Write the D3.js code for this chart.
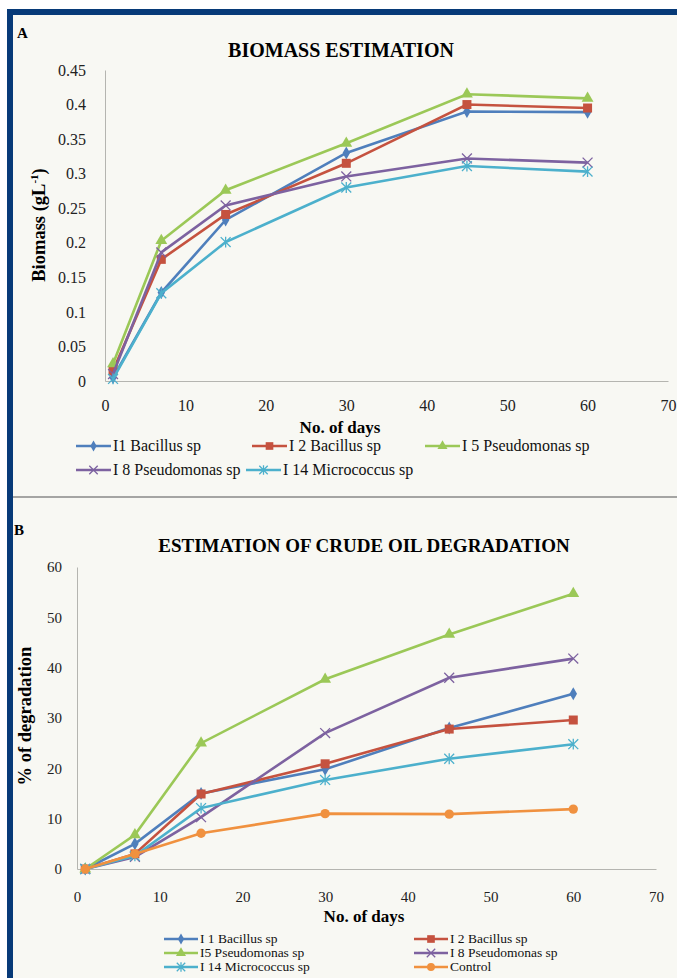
<!DOCTYPE html>
<html>
<head>
<meta charset="utf-8">
<script src="https://cdn.jsdelivr.net/npm/d3@7"></script>
<style>
  html, body { margin: 0; padding: 0; background: #fff; }
  svg text { font-family: "Liberation Serif", "Times New Roman", Times, "DejaVu Serif", serif; }
</style>
</head>
<body>
<svg id="chart" width="677" height="978"></svg>
<script>
const days = [1, 7, 15, 30, 45, 60];
const xTicks = [0, 10, 20, 30, 40, 50, 60, 70];

// panel A - biomass (g/L)
const biomassI1 = [0.005, 0.128, 0.233, 0.33, 0.39, 0.389];
const biomassI2 = [0.015, 0.176, 0.241, 0.315, 0.4, 0.395];
const biomassI5 = [0.025, 0.203, 0.276, 0.344, 0.415, 0.409];
const biomassI8 = [0.01, 0.186, 0.254, 0.296, 0.322, 0.316];
const biomassI14 = [0.003, 0.127, 0.201, 0.28, 0.311, 0.303];
const biomassTicks = [0, 0.05, 0.1, 0.15, 0.2, 0.25, 0.3, 0.35, 0.4, 0.45];

// panel B - % degradation
const degI1 = [0, 5, 15, 19.8, 28, 34.8];
const degI2 = [0, 3, 14.9, 20.9, 27.8, 29.6];
const degI5 = [0, 6.8, 25, 37.7, 46.6, 54.7];
const degI8 = [0, 2.4, 10.3, 27, 38, 41.8];
const degI14 = [0, 2.6, 12.1, 17.7, 21.9, 24.8];
const degControl = [0, 3, 7.1, 11, 10.9, 11.9];
const degTicks = [0, 10, 20, 30, 40, 50, 60];

const colors = {
  blue: '#4f7fbc', red: '#c5523f', green: '#9bc857',
  purple: '#7d62a0', cyan: '#4cb0cc', orange: '#f0913f'
};

const seriesA = [
  { name: 'I1 Bacillus sp', values: biomassI1, color: colors.blue, marker: 'diamond' },
  { name: 'I 2 Bacillus sp', values: biomassI2, color: colors.red, marker: 'square' },
  { name: 'I 5 Pseudomonas sp', values: biomassI5, color: colors.green, marker: 'triangle' },
  { name: 'I 8 Pseudomonas sp', values: biomassI8, color: colors.purple, marker: 'x' },
  { name: 'I 14 Micrococcus sp', values: biomassI14, color: colors.cyan, marker: 'star' },
];

const seriesB = [
  { name: 'I 1 Bacillus sp', values: degI1, color: colors.blue, marker: 'diamond' },
  { name: 'I 2 Bacillus sp', values: degI2, color: colors.red, marker: 'square' },
  { name: 'I5 Pseudomonas sp', values: degI5, color: colors.green, marker: 'triangle' },
  { name: 'I 8 Pseudomonas sp', values: degI8, color: colors.purple, marker: 'x' },
  { name: 'I 14 Micrococcus sp', values: degI14, color: colors.cyan, marker: 'star' },
  { name: 'Control', values: degControl, color: colors.orange, marker: 'circle' },
];

const serif = '"Liberation Serif", "Times New Roman", Times, "DejaVu Serif", serif';
const svg = d3.select('#chart');

// page background + frame
svg.append('rect').attr('width', 677).attr('height', 978).attr('fill', '#fff');
svg.append('rect').attr('x', 7).attr('y', 9).attr('width', 670).attr('height', 969).attr('fill', '#f8f8f3');
svg.append('rect').attr('x', 7).attr('y', 9).attr('width', 670).attr('height', 6).attr('fill', '#073a78');
svg.append('rect').attr('x', 7).attr('y', 9).attr('width', 6).attr('height', 969).attr('fill', '#073a78');
svg.append('line').attr('x1', 13).attr('x2', 677).attr('y1', 497).attr('y2', 497)
  .attr('stroke', '#8a8a88').attr('stroke-width', 1.5);

function drawMarker(g, type, color, size) {
  if (type === 'x' || type === 'star') {
    const r = size * 0.55;
    let d = `M${-r},${-r}L${r},${r}M${-r},${r}L${r},${-r}`;
    if (type === 'star') d += `M0,${-r * 1.1}L0,${r * 1.1}`;
    g.append('path').attr('d', d).attr('stroke', color).attr('stroke-width', 1.3).attr('fill', 'none');
    return;
  }
  const sym = { diamond: d3.symbolDiamond, square: d3.symbolSquare, triangle: d3.symbolTriangle, circle: d3.symbolCircle }[type];
  const area = { diamond: size * size * 0.6, square: size * size, triangle: size * size * 0.75, circle: size * size * 0.85 }[type];
  g.append('path').attr('d', d3.symbol(sym, area)()).attr('fill', color);
}

function panel(opts) {
  const x = d3.scaleLinear().domain([0, 70]).range(opts.xRange);
  const y = d3.scaleLinear().domain(opts.yDomain).range(opts.yRange);
  const g = svg.append('g').attr('font-family', serif);

  g.append('text').attr('x', opts.letter[0]).attr('y', opts.letter[1])
    .attr('font-weight', 'bold').attr('font-size', 15).text(opts.letterText);
  g.append('text').attr('x', opts.title[0]).attr('y', opts.title[1]).attr('text-anchor', 'middle')
    .attr('font-weight', 'bold').attr('font-size', opts.titleSize).text(opts.titleText);

  // axes
  const yAxis = g.append('g').attr('transform', `translate(${opts.xRange[0]},0)`)
    .call(d3.axisLeft(y).tickValues(opts.yTicks).tickSize(0).tickPadding(opts.yPad).tickFormat(opts.yFormat));
  yAxis.select('.domain').attr('stroke', '#b5b5b0');
  const xAxis = g.append('g').attr('transform', `translate(0,${opts.yRange[0]})`)
    .call(d3.axisBottom(x).tickValues(xTicks).tickSize(0).tickPadding(opts.xPad).tickFormat(d3.format('d')));
  xAxis.select('.domain').attr('stroke', '#b5b5b0');
  yAxis.attr('font-family', serif);
  xAxis.attr('font-family', serif);
  g.selectAll('.tick text').attr('font-size', opts.tickSize).attr('fill', '#222');

  g.append('text').attr('transform', `translate(${opts.yTitle[0]},${opts.yTitle[1]}) rotate(-90)`)
    .attr('text-anchor', 'middle').attr('font-weight', 'bold').attr('font-size', opts.yTitleSize)
    .call(opts.yTitleFn);
  g.append('text').attr('x', opts.xTitle[0]).attr('y', opts.xTitle[1]).attr('text-anchor', 'middle')
    .attr('font-weight', 'bold').attr('font-size', 17).text('No. of days');

  const line = d3.line().x((d, i) => x(days[i])).y(d => y(d));
  opts.series.forEach(s => {
    g.append('path').attr('d', line(s.values)).attr('fill', 'none')
      .attr('stroke', s.color).attr('stroke-width', 2.6);
    s.values.forEach((v, i) => {
      const mg = g.append('g').attr('transform', `translate(${x(days[i])},${y(v)})`);
      drawMarker(mg, s.marker, s.color, opts.markerSize);
    });
  });

  // legend
  const len = opts.legendLine;
  opts.series.forEach((s, i) => {
    const [lx, ly] = opts.legendPos[i];
    const lg = g.append('g').attr('transform', `translate(${lx},${ly})`);
    lg.append('line').attr('x1', 0).attr('x2', len).attr('stroke', s.color).attr('stroke-width', 2.6);
    const mg = lg.append('g').attr('transform', `translate(${len / 2},0)`);
    drawMarker(mg, s.marker, s.color, opts.markerSize * 0.85);
    lg.append('text').attr('x', len + 2).attr('y', 0).attr('dy', '0.33em')
      .attr('font-size', opts.legendSize).attr('fill', '#111').text(s.name);
  });
}

panel({
  letterText: 'A', letter: [17, 38],
  titleText: 'BIOMASS ESTIMATION', title: [341, 57], titleSize: 20,
  xRange: [105, 668], yDomain: [0, 0.45], yRange: [381, 70],
  yTicks: biomassTicks, yFormat: d => d === 0 ? '0' : String(+d.toFixed(2)), yPad: 19, xPad: 19,
  tickSize: 16,
  yTitle: [45, 225], yTitleSize: 18.5,
  yTitleFn: t => {
    t.append('tspan').text('Biomass (gL');
    t.append('tspan').attr('font-size', 11).attr('dy', -7).text('-1');
    t.append('tspan').attr('dy', 7).text(')');
  },
  xTitle: [340, 433],
  series: seriesA, markerSize: 9, legendSize: 16, legendLine: 35,
  legendPos: [[76, 446], [252, 446], [425, 446], [76, 470], [246, 470]],
});

panel({
  letterText: 'B', letter: [14, 535],
  titleText: 'ESTIMATION OF CRUDE OIL DEGRADATION', title: [364, 552], titleSize: 19,
  xRange: [77, 656], yDomain: [0, 60], yRange: [869, 567],
  yTicks: degTicks, yFormat: d3.format('d'), yPad: 15, xPad: 22,
  tickSize: 15,
  yTitle: [31, 716], yTitleSize: 18.5,
  yTitleFn: t => t.text('% of degradation'),
  xTitle: [364, 922],
  series: seriesB, markerSize: 9, legendSize: 13.5, legendLine: 34,
  legendPos: [[164, 939], [414, 939], [164, 953], [414, 953], [164, 967], [414, 967]],
});
</script>
</body>
</html>
